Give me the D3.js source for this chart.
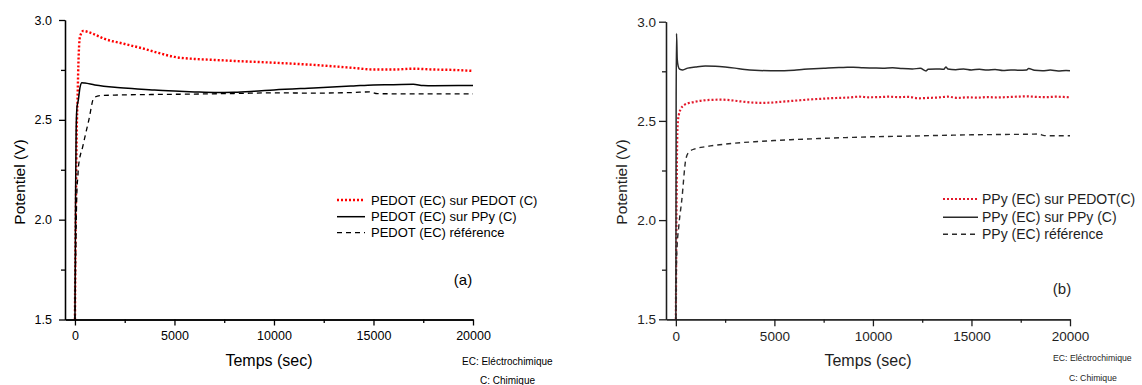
<!DOCTYPE html>
<html>
<head>
<meta charset="utf-8">
<script src="https://cdn.jsdelivr.net/npm/d3@7"></script>
<style>
  html, body { margin: 0; padding: 0; background: #ffffff; }
  svg { display: block; }
  text { font-family: "Liberation Sans", Arial, sans-serif; }
</style>
</head>
<body>
<svg id="chart" width="1142" height="385"></svg>
<script>
// ---------- shared axis data ----------
const xTicks = [0, 5000, 10000, 15000, 20000];
const xMinorTicks = [2500, 7500, 12500, 17500];
const yTicks = [1.5, 2.0, 2.5, 3.0];
const yMinorTicks = [1.75, 2.25, 2.75];
const xDomain = [-500, 20000];
const yDomain = [1.5, 3.0];
const xTitle = "Temps (sec)";
const yTitle = "Potentiel (V)";
const noteLines = ["EC: Eléctrochimique", "C: Chimique"];

// ---------- panel (a) : PEDOT ----------
const labelsA = ["PEDOT (EC) sur PEDOT (C)", "PEDOT (EC) sur PPy (C)", "PEDOT (EC) référence"];
const timeA1 = [0, 20, 50, 90, 130, 170, 250, 420, 800, 1500, 2500, 3500, 4200, 5000, 6000, 7000, 8000, 10000, 12000, 14000, 15000, 16000, 17000, 18000, 19000, 20000];
const potA1  = [1.5, 1.8, 2.1, 2.45, 2.6, 2.77, 2.915, 2.945, 2.935, 2.905, 2.88, 2.855, 2.835, 2.815, 2.805, 2.80, 2.795, 2.786, 2.775, 2.76, 2.752, 2.752, 2.756, 2.752, 2.75, 2.745];
const timeA2 = [0, 30, 60, 100, 170, 250, 350, 500, 1000, 2000, 3000, 4000, 5000, 6000, 7000, 8000, 9000, 10000, 12000, 14000, 15000, 16000, 17000, 17500, 18000, 20000];
const potA2  = [1.5, 2.1, 2.45, 2.56, 2.60, 2.66, 2.686, 2.684, 2.675, 2.663, 2.656, 2.649, 2.644, 2.64, 2.637, 2.638, 2.643, 2.65, 2.66, 2.67, 2.675, 2.676, 2.678, 2.672, 2.671, 2.672];
const timeA3 = [0, 50, 100, 150, 170, 400, 700, 950, 1250, 2000, 4000, 6000, 8000, 10000, 12000, 14000, 14800, 15200, 17000, 20000];
const potA3  = [1.5, 1.9, 2.15, 2.22, 2.26, 2.37, 2.5, 2.61, 2.621, 2.624, 2.627, 2.629, 2.632, 2.635, 2.634, 2.637, 2.64, 2.631, 2.63, 2.63];

// ---------- panel (b) : PPy ----------
const labelsB = ["PPy (EC) sur PEDOT(C)", "PPy (EC) sur PPy (C)", "PPy (EC) référence"];
const timeB1 = [0, 30, 60, 90, 150, 250, 400, 600, 900, 1300, 1800, 2300, 2800, 3300, 3800, 4300, 4800, 5300, 5800, 6300, 6800, 7300, 7800, 8300, 8800, 9300, 9800, 10300, 10800, 11300, 11800, 12300, 12800, 13300, 13800, 14300, 14800, 15300, 15800, 16300, 16800, 17300, 17800, 18300, 18800, 19300, 19800, 20000];
const potB1  = [1.5, 2.0, 2.35, 2.48, 2.53, 2.56, 2.578, 2.588, 2.595, 2.602, 2.606, 2.607, 2.604, 2.598, 2.593, 2.591, 2.592, 2.596, 2.6, 2.604, 2.608, 2.611, 2.614, 2.616, 2.618, 2.622, 2.619, 2.62, 2.622, 2.62, 2.621, 2.614, 2.616, 2.618, 2.622, 2.616, 2.619, 2.617, 2.62, 2.618, 2.62, 2.622, 2.624, 2.621, 2.62, 2.622, 2.62, 2.619];
const timeB2 = [0, 15, 35, 70, 120, 200, 350, 600, 1000, 1500, 2000, 2500, 3000, 3500, 4000, 4800, 5500, 6000, 6500, 7000, 7500, 8000, 8500, 9000, 9500, 10000, 10500, 11000, 11500, 12000, 12400, 12700, 12800, 13200, 13600, 13700, 13800, 14200, 14600, 15000, 15400, 15800, 16200, 16600, 17000, 17400, 17800, 17900, 18200, 18600, 19000, 19400, 19800, 20000];
const potB2  = [1.5, 2.6, 2.94, 2.81, 2.775, 2.76, 2.757, 2.766, 2.772, 2.777, 2.776, 2.772, 2.766, 2.759, 2.755, 2.753, 2.753, 2.755, 2.76, 2.763, 2.765, 2.768, 2.769, 2.771, 2.768, 2.767, 2.766, 2.768, 2.764, 2.762, 2.765, 2.752, 2.76, 2.762, 2.76, 2.772, 2.762, 2.758, 2.762, 2.757, 2.76, 2.756, 2.759, 2.754, 2.757, 2.755, 2.757, 2.764, 2.755, 2.753, 2.756, 2.752, 2.754, 2.753];
const timeB3 = [0, 40, 150, 300, 513, 680, 1000, 1500, 2000, 3000, 4000, 5000, 6000, 7000, 8000, 9000, 10000, 11000, 12000, 13000, 14000, 15000, 16000, 17000, 18000, 18400, 18700, 19000, 20000];
const potB3  = [1.5, 1.82, 1.97, 2.1, 2.31, 2.345, 2.36, 2.37, 2.377, 2.388, 2.395, 2.401, 2.406, 2.41, 2.414, 2.417, 2.42, 2.422, 2.424, 2.426, 2.428, 2.43, 2.431, 2.432, 2.433, 2.434, 2.426, 2.425, 2.425];

const svg = d3.select("#chart");

function drawPanel(cfg) {
  const x = d3.scaleLinear().domain(xDomain).range([cfg.left, cfg.right]);
  const y = d3.scaleLinear().domain(yDomain).range([cfg.bottom, cfg.top]);
  const g = svg.append("g").attr("fill", cfg.ink);

  // series
  const line = d3.line().x(d => x(d[0])).y(d => y(d[1])).curve(d3.curveMonotoneX);
  cfg.series.forEach(s => {
    const pts = s.t.map((t, i) => [t, s.v[i]]);
    g.append("path").datum(pts)
      .attr("d", line)
      .attr("fill", "none")
      .attr("stroke", s.color)
      .attr("stroke-width", s.width)
      .attr("stroke-dasharray", s.dash)
      .attr("stroke-linejoin", "round");
  });

  // axes
  const styleAxis = (sel, fs) => {
    sel.selectAll("path, line").attr("stroke", cfg.ink).attr("stroke-width", 1.3);
    sel.selectAll("text").attr("fill", cfg.ink).style("font-size", fs + "px")
      .style("font-family", '"Liberation Sans", Arial, sans-serif');
  };
  const xAxis = g.append("g").attr("transform", `translate(0,${cfg.bottom})`)
    .call(d3.axisBottom(x).tickValues(xTicks).tickFormat(d3.format("d"))
      .tickSize(cfg.tick).tickSizeOuter(0).tickPadding(cfg.xPad));
  styleAxis(xAxis, cfg.tickFont);
  const xMinor = g.append("g").attr("transform", `translate(0,${cfg.bottom})`)
    .call(d3.axisBottom(x).tickValues(xMinorTicks).tickFormat("").tickSize(3.5).tickSizeOuter(0));
  styleAxis(xMinor, cfg.tickFont);

  const yAxis = g.append("g").attr("transform", `translate(${cfg.left},0)`)
    .call(d3.axisLeft(y).tickValues(yTicks).tickFormat(d3.format(".1f"))
      .tickSize(cfg.tick).tickSizeOuter(0).tickPadding(cfg.yPad));
  styleAxis(yAxis, cfg.tickFont);
  const yMinor = g.append("g").attr("transform", `translate(${cfg.left},0)`)
    .call(d3.axisLeft(y).tickValues(yMinorTicks).tickFormat("").tickSize(4).tickSizeOuter(0));
  styleAxis(yMinor, cfg.tickFont);

  // titles
  g.append("text").attr("x", (cfg.left + cfg.right) / 2).attr("y", 366)
    .attr("text-anchor", "middle").style("font-size", "16px").text(xTitle);
  g.append("text").attr("transform", `translate(${cfg.yTitleX},182) rotate(-90)`)
    .attr("text-anchor", "middle").attr("dy", "0.35em")
    .style("font-size", cfg.yTitleFont + "px").text(yTitle);

  // legend
  cfg.series.forEach((s, i) => {
    const ly = cfg.legendY[i];
    g.append("line").attr("x1", cfg.legX1).attr("x2", cfg.legX2)
      .attr("y1", ly).attr("y2", ly)
      .attr("stroke", s.color).attr("stroke-width", s.width)
      .attr("stroke-dasharray", s.dash);
    g.append("text").attr("x", cfg.legText).attr("y", ly).attr("dy", "0.35em")
      .style("font-size", cfg.legFont + "px").text(s.label);
  });

  // panel letter
  g.append("text").attr("x", cfg.letterX).attr("y", cfg.letterY).attr("dy", "0.35em")
    .attr("text-anchor", "middle").style("font-size", "15px").text(cfg.letter);

  // notes
  g.append("text").attr("x", cfg.note1X).attr("y", cfg.note1Y).attr("dy", "0.35em")
    .style("font-size", cfg.noteFont + "px").text(noteLines[0]);
  g.append("text").attr("x", cfg.note2X).attr("y", cfg.note2Y).attr("dy", "0.35em")
    .style("font-size", cfg.noteFont + "px").text(noteLines[1]);
}

drawPanel({
  left: 65, right: 473, top: 20, bottom: 319.5, ink: "#000",
  tick: 6, xPad: 6, yPad: 7, tickFont: 12.5, yTitleX: 20, yTitleFont: 15.5,
  legX1: 337, legX2: 365, legText: 371, legendY: [200, 216.7, 232.7], legFont: 13,
  letter: "(a)", letterX: 463, letterY: 280,
  noteFont: 10, note1X: 462, note1Y: 361.7, note2X: 480, note2Y: 380,
  series: [
    { label: labelsA[0], t: timeA1, v: potA1, color: "#ff0000", width: 2.4, dash: "2,2" },
    { label: labelsA[1], t: timeA2, v: potA2, color: "#000", width: 1.5, dash: null },
    { label: labelsA[2], t: timeA3, v: potA3, color: "#000", width: 1.3, dash: "5,4" }
  ]
});

drawPanel({
  left: 666, right: 1070, top: 21.7, bottom: 319.3, ink: "#1e1e1e",
  tick: 7, xPad: 5, yPad: 3, tickFont: 13.5, yTitleX: 622, yTitleFont: 15.5,
  legX1: 943, legX2: 978, legText: 982, legendY: [199, 217.3, 234.3], legFont: 14,
  letter: "(b)", letterX: 1062, letterY: 288.3,
  noteFont: 8.7, note1X: 1053, note1Y: 358.3, note2X: 1069, note2Y: 377.7,
  series: [
    { label: labelsB[0], t: timeB1, v: potB1, color: "#e3192b", width: 2.2, dash: "2,2" },
    { label: labelsB[1], t: timeB2, v: potB2, color: "#2a2a2a", width: 1.5, dash: null },
    { label: labelsB[2], t: timeB3, v: potB3, color: "#2a2a2a", width: 1.4, dash: "5,4" }
  ]
});
</script>
</body>
</html>
